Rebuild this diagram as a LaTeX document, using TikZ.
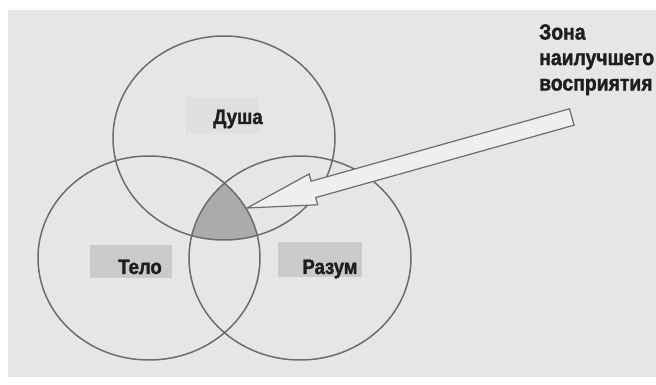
\documentclass[tikz,border=0pt]{standalone}
\usepackage{fontspec}
\setmainfont{Liberation Sans}
\newfontfamily\heavyfont[FakeBold=1.5, FakeStretch=0.88]{Liberation Sans Bold}
\usepackage{tikz}
\usetikzlibrary{shapes.geometric, calc, positioning}
\definecolor{paper}{HTML}{E6E6E6}
\definecolor{cellgray}{HTML}{CACACA}
\definecolor{ringgray}{HTML}{6C6C6C}
\definecolor{zonegray}{HTML}{ABABAB}
\definecolor{inkgray}{HTML}{1E1E1E}
\definecolor{arrowfill}{HTML}{EFEFEF}
\tikzset{
	venn/.style={ellipse, draw=ringgray, line width=1.5pt, minimum width=222pt, minimum height=204pt, inner sep=0pt}
}
\tikzset{
	labeltext/.style={font=\heavyfont\fontsize{21}{25}\selectfont, text=inkgray, inner sep=0pt}
}
\tikzset{
	blockarrow/.style={draw=ringgray, fill=arrowfill, line width=1.2pt, line join=miter}
}

\begin{document}
\begin{tikzpicture}[x=1pt, y=1pt, >=stealth]
      \useasboundingbox (0,0) rectangle (656,385);
      \fill[paper] (8,8) rectangle (656,375);

      % gray cells behind the labels
      \fill[cellgray!60] (186,252) rectangle (259,288);
      \fill[cellgray] (90,107) rectangle (172,140);
      \fill[cellgray] (278,108) rectangle (362,143);

      % zone where all three overlap
      \begin{scope}
        \clip (224,247) ellipse [x radius=111, y radius=102];
        \clip (149,127) ellipse [x radius=111, y radius=102];
        \fill[zonegray] (300,127) ellipse [x radius=111, y radius=102];
      \end{scope}

      % the three circles
      \node[venn] (dusha) at (224,247) {};
      \node[venn] (telo) at (149,127) {};
      \node[venn] (razum) at (300,127) {};

      \node[labeltext, anchor=base] (ldusha) at (238,261) {Душа};
      \node[labeltext, anchor=base] (ltelo) at (140,111) {Тело};
      \node[labeltext, anchor=base] (lrazum) at (330,111) {Разум};

      % caption and the block arrow pointing into the zone
      \node[labeltext, align=left, anchor=north west, font=\heavyfont\fontsize{22}{25.5}\selectfont] (zona) at (539,361) {Зона\\наилучшего\\восприятия};
      \coordinate (tip) at (247,177);
      \coordinate (tail) at (571.8,268);
      \coordinate (hbase) at ($(tip)!69pt!(tail)$);
      \draw[blockarrow] (tip) -- ($(hbase)!16pt!90:(tail)$) -- ($(hbase)!8.5pt!90:(tail)$)
        -- ($(tail)!8.5pt!-90:(hbase)$) -- ($(tail)!8.5pt!90:(hbase)$)
        -- ($(hbase)!8.5pt!-90:(tail)$) -- ($(hbase)!16pt!-90:(tail)$) -- cycle;
    \end{tikzpicture}
\end{document}
